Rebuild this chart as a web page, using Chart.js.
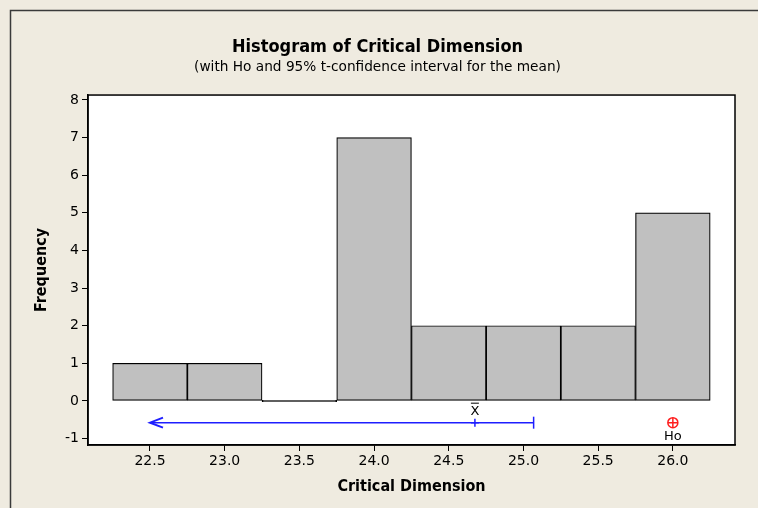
<!DOCTYPE html>
<html>
<head>
<meta charset="utf-8">
<script src="https://cdn.jsdelivr.net/npm/chart.js@4/dist/chart.umd.min.js"></script>
<style>
  html, body { margin: 0; padding: 0; background: #EFEBE0; }
  #wrap { width: 758px; height: 508px; }
</style>
</head>
<body>
<div id="wrap"><canvas id="c" width="758" height="508"></canvas></div>
<script>
// ---- data ----
const binMidpoints = [22.5, 23.0, 23.5, 24.0, 24.5, 25.0, 25.5, 26.0];
const frequencies  = [1, 1, 0, 7, 2, 2, 2, 5];
const xTickValues  = [22.5, 23.0, 23.5, 24.0, 24.5, 25.0, 25.5, 26.0];
const yTickValues  = [-1, 0, 1, 2, 3, 4, 5, 6, 7, 8];
const sampleMean   = 24.675;
const ciUpper      = 25.068;
const ciArrowEnd   = 22.5;
const ciLevel      = -0.577;
const hoValue      = 26.0;

const titleText    = 'Histogram of Critical Dimension';
const subtitleText = '(with Ho and 95% t-confidence interval for the mean)';
const xTitle       = 'Critical Dimension';
const yTitle       = 'Frequency';

const blue = '#1E1EFF';
const red  = '#FF1E1E';

const framePlugin = {
  id: 'frame',
  beforeDraw(chart) {
    const {ctx, chartArea: a, width, height} = chart;
    ctx.save();
    ctx.fillStyle = '#EFEBE0';
    ctx.fillRect(0, 0, width, height);
    ctx.strokeStyle = '#3a3a3a';
    ctx.lineWidth = 1.5;
    ctx.beginPath();
    ctx.moveTo(10.5, height);
    ctx.lineTo(10.5, 10.5);
    ctx.lineTo(width, 10.5);
    ctx.stroke();
    ctx.fillStyle = '#FFFFFF';
    ctx.fillRect(a.left, a.top, a.right - a.left, a.bottom - a.top);
    ctx.restore();
  },
  afterDraw(chart) {
    const {ctx, chartArea: a} = chart;
    ctx.save();
    ctx.strokeStyle = '#000';
    ctx.lineWidth = 1.5;
    ctx.strokeRect(a.left, a.top, a.right - a.left, a.bottom - a.top);
    ctx.restore();
  }
};

const annotPlugin = {
  id: 'annot',
  afterDatasetsDraw(chart) {
    const {ctx} = chart;
    ctx.save();
    // arrow head at the open end of the interval
    const ciMeta = chart.getDatasetMeta(1);
    const p0 = ciMeta.data[0];
    ctx.strokeStyle = blue;
    ctx.lineWidth = 2;
    ctx.beginPath();
    ctx.moveTo(p0.x + 13, p0.y - 5);
    ctx.lineTo(p0.x, p0.y);
    ctx.lineTo(p0.x + 13, p0.y + 5);
    ctx.stroke();
    // labels
    ctx.fillStyle = '#000';
    ctx.font = '13px "DejaVu Sans"';
    ctx.textAlign = 'center';
    ctx.textBaseline = 'middle';
    const m = chart.getDatasetMeta(2).data[0];
    ctx.fillText('X', m.x, m.y - 11);
    ctx.lineWidth = 1;
    ctx.strokeStyle = '#000';
    ctx.beginPath();
    ctx.moveTo(m.x - 4, m.y - 19.5);
    ctx.lineTo(m.x + 4, m.y - 19.5);
    ctx.stroke();
    const h = chart.getDatasetMeta(3).data[0];
    ctx.fillText('Ho', h.x, h.y + 14);
    ctx.restore();
  }
};

new Chart(document.getElementById('c'), {
  type: 'bar',
  data: {
    datasets: [
      {
        type: 'bar',
        data: binMidpoints.map((x, i) => ({x: x, y: frequencies[i]})),
        backgroundColor: '#C0C0C0',
        borderColor: '#000',
        borderWidth: 1.2,
        borderSkipped: false,
        barPercentage: 1,
        categoryPercentage: 1,
        minBarLength: 1.5,
        order: 2
      },
      {
        type: 'line',
        data: [{x: ciArrowEnd, y: ciLevel}, {x: ciUpper, y: ciLevel}],
        borderColor: blue,
        borderWidth: 1.5,
        pointStyle: ctx => ctx.dataIndex === 1 ? 'line' : false,
        pointRotation: 90,
        pointRadius: 6,
        pointBorderWidth: 1.5,
        pointBorderColor: blue,
        order: 1
      },
      {
        type: 'line',
        data: [{x: sampleMean, y: ciLevel}],
        showLine: false,
        pointStyle: 'cross',
        pointRadius: 4,
        pointBorderWidth: 1.5,
        pointBorderColor: blue,
        order: 0
      },
      {
        type: 'line',
        data: [{x: hoValue, y: ciLevel}],
        showLine: false,
        pointStyle: 'circle',
        pointRadius: 5,
        pointBorderWidth: 1.5,
        pointBorderColor: red,
        pointBackgroundColor: 'rgba(0,0,0,0)',
        order: 0
      },
      {
        type: 'line',
        data: [{x: hoValue, y: ciLevel}],
        showLine: false,
        pointStyle: 'cross',
        pointRadius: 5,
        pointBorderWidth: 1.5,
        pointBorderColor: red,
        order: 0
      }
    ]
  },
  options: {
    responsive: false,
    animation: false,
    layout: { padding: { left: 20, right: 23, top: 0, bottom: 0 } },
    plugins: {
      legend: { display: false },
      tooltip: { enabled: false },
      title: {
        display: true,
        text: titleText,
        color: '#000',
        font: { family: '"DejaVu Sans Condensed"', size: 18, weight: 'bold', lineHeight: 1.2 },
        padding: { top: 36.2, bottom: 1 }
      },
      subtitle: {
        display: true,
        text: subtitleText,
        color: '#000',
        font: { family: '"DejaVu Sans"', size: 13.7, lineHeight: 1.2 },
        padding: { top: 0, bottom: 19.8 }
      }
    },
    scales: {
      x: {
        type: 'linear',
        min: 22.085,
        max: 26.416,
        offset: false,
        afterBuildTicks: s => { s.ticks = xTickValues.map(v => ({value: v})); },
        afterFit: s => { s.height = 63; },
        ticks: {
          color: '#000',
          font: { family: '"DejaVu Sans"', size: 14 },
          padding: 2,
          autoSkip: false,
          maxRotation: 0,
          callback: v => Number(v).toFixed(1)
        },
        grid: { offset: false, drawOnChartArea: false, drawTicks: true, tickLength: 6, color: '#000', tickWidth: 1 },
        border: { display: true, color: '#000', width: 1.5 },
        title: {
          display: true,
          text: xTitle,
          color: '#000',
          font: { family: '"DejaVu Sans Condensed"', size: 16, weight: 'bold', lineHeight: 1.2 },
          padding: { top: 0, bottom: 11.4 }
        }
      },
      y: {
        type: 'linear',
        min: -1.17,
        max: 8.13,
        afterBuildTicks: s => { s.ticks = yTickValues.map(v => ({value: v})); },
        afterFit: s => { s.width = 68; },
        ticks: {
          color: '#000',
          font: { family: '"DejaVu Sans"', size: 14 },
          padding: 3
        },
        grid: { drawOnChartArea: false, drawTicks: true, tickLength: 6, color: '#000', tickWidth: 1 },
        border: { display: true, color: '#000', width: 1.5 },
        title: {
          display: true,
          text: yTitle,
          color: '#000',
          font: { family: '"DejaVu Sans Condensed"', size: 16, weight: 'bold', lineHeight: 1.2 },
          padding: { top: 12.4, bottom: 0 }
        }
      }
    }
  },
  plugins: [framePlugin, annotPlugin]
});
</script>
</body>
</html>
